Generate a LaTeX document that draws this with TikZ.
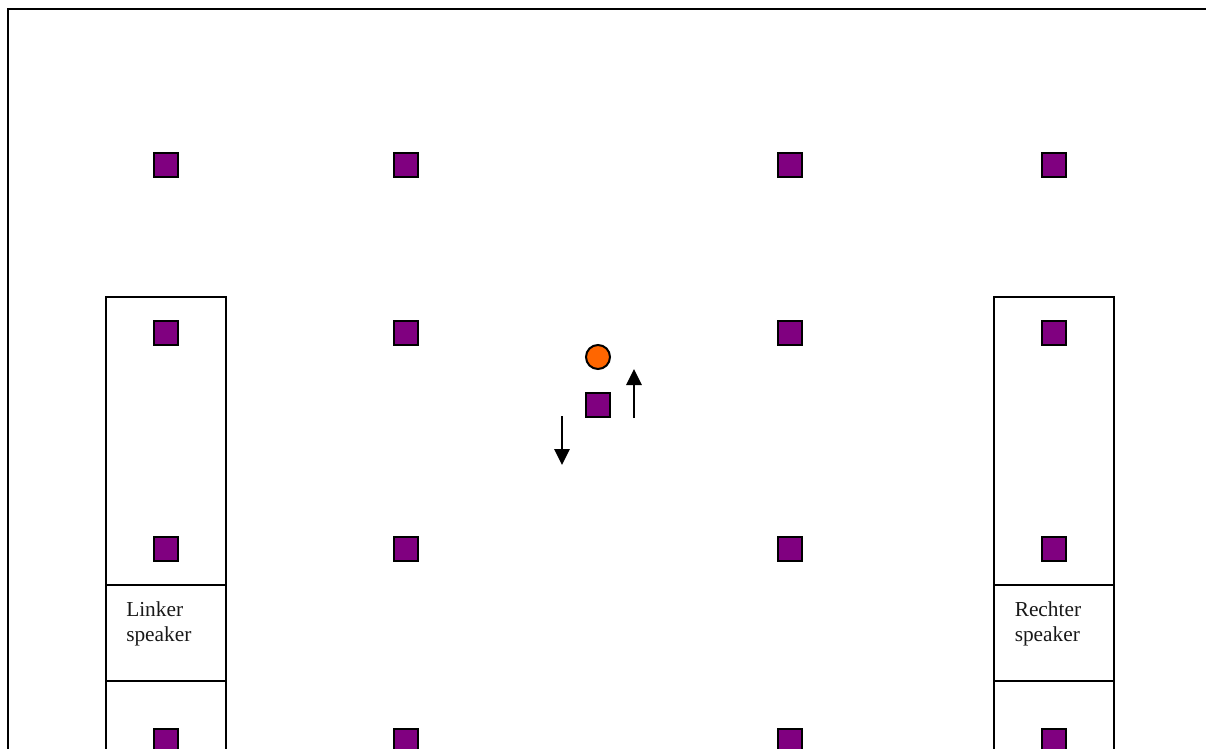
\documentclass[tikz,border=0pt]{standalone}
\usepackage{fontspec}
\setmainfont{Liberation Serif}
\usetikzlibrary{arrows.meta}
\definecolor{plum}{HTML}{800080}
\definecolor{tangerine}{HTML}{FF6600}
\tikzset{wall/.style={draw=black,line width=1.5pt},
 seat/.style={wall,fill=plum,minimum size=18pt,inner sep=0pt,outer sep=0pt},
 dot/.style={wall,fill=tangerine,circle,minimum size=18pt,inner sep=0pt,outer sep=0pt},
 cell/.style={wall,minimum width=90pt,minimum height=72pt,inner sep=0pt,outer sep=0pt},
 captext/.style={anchor=north west,align=left,inner sep=0pt,text=black!90,
 font=\fontsize{16pt}{18.4pt}\selectfont},
 arr/.style={-{Triangle[length=12pt,width=11.5pt]},line width=1.5pt}}
\begin{document}
\begin{tikzpicture}[x=.75pt,y=-.75pt]
\useasboundingbox (0,0) rectangle (1206,749);
\clip (0,0) rectangle (1206,749);
% hall and speaker columns
\draw[wall] (8,9) rectangle (1300,900);
\draw[wall] (106,297) rectangle (226,900);
\draw[wall] (994,297) rectangle (1114,900);
\node[cell] (linkercell) at (166,633) {};
\node[cell] (rechtercell) at (1054,633) {};
\node[captext] (linkertext) at (126,601.5) {Linker\\speaker};
\node[captext] (rechtertext) at (1014.5,601.5) {Rechter\\speaker};
% seats
\foreach \x in {166,406,790,1054}
 \foreach \y in {165,333,549,741}
  \node[seat] (seat-\x-\y) at (\x,\y) {};
\node[seat] (mover) at (598,405) {};
\node[dot] (listener) at (598,357) {};
% movement arrows
\coordinate (upstart) at (634,418);
\coordinate (upend) at (634,369);
\coordinate (downstart) at (562,416);
\coordinate (downend) at (562,465);
\draw[arr] (upstart)--(upend);
\draw[arr] (downstart)--(downend);
\end{tikzpicture}
\end{document}
